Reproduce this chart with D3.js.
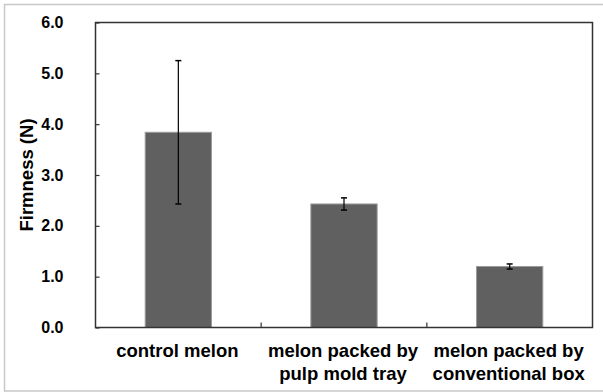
<!DOCTYPE html>
<html>
<head>
<meta charset="utf-8">
<script src="https://cdn.jsdelivr.net/npm/d3@7"></script>
<style>
  body { margin: 0; background: #fff; }
  svg { display: block; font-family: Arial, "Liberation Sans", sans-serif; }
</style>
</head>
<body>
<svg id="chart" width="603" height="392"></svg>
<script>
// data
const categories = [["control melon"], ["melon packed by", "pulp mold tray"], ["melon packed by", "conventional box"]];
const firmness = [3.84, 2.43, 1.20];
const errors = [1.41, 0.12, 0.05];
const yTicks = [0, 1, 2, 3, 4, 5, 6];

const svg = d3.select("#chart");

// outer frame
svg.append("rect")
  .attr("x", 4.5).attr("y", 4.5)
  .attr("width", 610).attr("height", 386.5)
  .attr("fill", "none").attr("stroke", "#c8c8c8").attr("stroke-width", 1.5);

const plot = { left: 95.5, right: 592.5, top: 22.5, bottom: 327.5 };

const x = d3.scaleBand()
  .domain(d3.range(categories.length))
  .range([plot.left, plot.right])
  .paddingInner(0.6).paddingOuter(0.3);

const xCat = d3.scaleBand()
  .domain(d3.range(categories.length))
  .range([plot.left, plot.right]);

const y = d3.scaleLinear().domain([0, 6]).range([plot.bottom, plot.top]);

// bars
svg.append("g").selectAll("rect")
  .data(firmness).enter()
  .append("rect")
  .attr("x", (d, i) => x(i))
  .attr("y", d => y(d))
  .attr("width", x.bandwidth())
  .attr("height", d => y(0) - y(d))
  .attr("fill", "#606060")
  .attr("stroke", "#9a9a9a")
  .attr("stroke-width", 1);

// error bars
const eb = svg.append("g").attr("stroke", "#000").attr("stroke-width", 1.2);
firmness.forEach((d, i) => {
  const cx = x(i) + x.bandwidth() / 2;
  eb.append("line").attr("x1", cx).attr("x2", cx).attr("y1", y(d + errors[i])).attr("y2", y(d - errors[i]));
  [d + errors[i], d - errors[i]].forEach(v => {
    eb.append("line").attr("x1", cx - 3).attr("x2", cx + 3).attr("y1", y(v)).attr("y2", y(v)).attr("stroke-width", 1.5);
  });
});

// plot frame
svg.append("rect")
  .attr("x", plot.left).attr("y", plot.top)
  .attr("width", plot.right - plot.left).attr("height", plot.bottom - plot.top)
  .attr("fill", "none").attr("stroke", "#333").attr("stroke-width", 1.5);

// y axis
const yAxis = svg.append("g")
  .attr("transform", `translate(${plot.left},0)`)
  .call(d3.axisLeft(y).tickValues(yTicks).tickFormat(d3.format(".1f")).tickSizeInner(-4).tickSizeOuter(0).tickPadding(32));
yAxis.select(".domain").remove();
yAxis.selectAll("line").attr("stroke", "#333").attr("stroke-width", 1.2);
yAxis.selectAll("text")
  .attr("font-size", 16).attr("font-weight", "bold").attr("fill", "#000")
  .attr("font-family", "Arial, 'Liberation Sans', sans-serif");

// x category dividers
const xAxis = svg.append("g")
  .attr("transform", `translate(0,${plot.bottom})`);
xAxis.selectAll("line")
  .data(d3.range(1, categories.length)).enter()
  .append("line")
  .attr("x1", d => xCat(d)).attr("x2", d => xCat(d))
  .attr("y1", 0).attr("y2", -5)
  .attr("stroke", "#333").attr("stroke-width", 1.2);

// x labels
const labels = svg.append("g")
  .attr("font-size", 18.5).attr("font-weight", "bold").attr("text-anchor", "middle").attr("fill", "#000");
categories.forEach((lines, i) => {
  const cx = x(i) + x.bandwidth() / 2 - 1;
  const t = labels.append("text").attr("x", cx).attr("y", 357);
  lines.forEach((s, j) => {
    t.append("tspan").attr("x", cx).attr("dy", j === 0 ? 0 : 23).text(s);
  });
});

// y title
svg.append("text")
  .attr("transform", `translate(33,${(plot.top + plot.bottom) / 2}) rotate(-90)`)
  .attr("text-anchor", "middle")
  .attr("font-size", 18.5)
  .attr("font-weight", "bold")
  .attr("fill", "#000")
  .text("Firmness (N)");
</script>
</body>
</html>
